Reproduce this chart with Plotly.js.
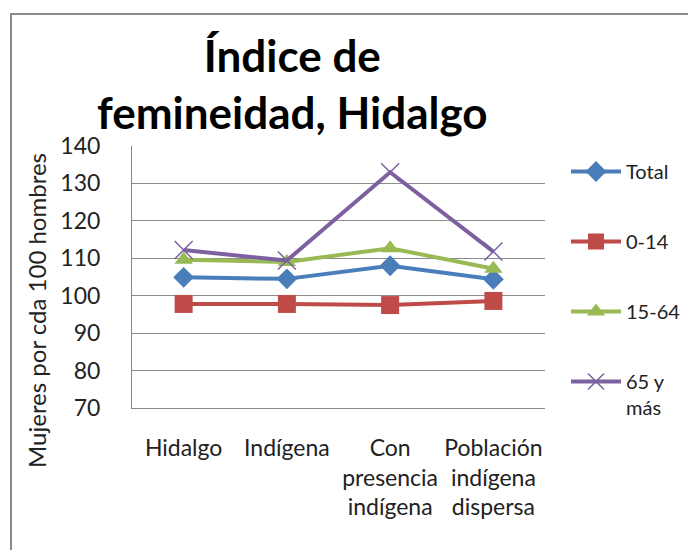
<!DOCTYPE html>
<html>
<head>
<meta charset="utf-8">
<script src="https://cdn.plot.ly/plotly-3.0.1.min.js"></script>
<style>html,body{margin:0;padding:0;background:#fff;}#chart{width:688px;height:550px;}</style>
</head>
<body>
<div id="chart"></div>
<script>
const categories = ["Hidalgo", "Indígena", "Con<br>presencia<br>indígena", "Población<br>indígena<br>dispersa"];
const seriesNames = ["Total", "0-14", "15-64", "65 y<br>más"];
const total = [104.9, 104.5, 108.0, 104.4];
const age0_14 = [97.8, 97.8, 97.5, 98.6];
const age15_64 = [109.6, 109.0, 112.7, 107.2];
const age65 = [112.2, 109.4, 133.0, 111.8];
const yTicks = [70, 80, 90, 100, 110, 120, 130, 140];
const titleText = "<b>Índice de<br>femineidad, Hidalgo</b>";
const yTitleText = "Mujeres por cda 100 hombres";

const font = "Lato, 'Open Sans', sans-serif";
const colors = ["#4A7EBB", "#BE4B48", "#98B954", "#7D60A0"];
const symbols = ["diamond", "square", "triangle-up", "x-thin-open"];
const sizes = [16, 18, 16, 18];
const data = [total, age0_14, age15_64, age65].map((vals, i) => ({
  type: "scatter", mode: "lines+markers",
  x: categories, y: vals, name: seriesNames[i], legendgroup: "g" + i,
  line: {color: colors[i], width: 4},
  marker: {symbol: symbols[i], size: sizes[i], color: colors[i], line: {color: colors[i], width: i === 3 ? 1.5 : 0}}
}));

const L = 132, R = 545, T = 146, B = 408;
const px = v => (v - L) / (R - L);
const py = v => (B - v) / (B - T);

const layout = {
  width: 688, height: 550,
  margin: {l: L, r: 688 - R, t: T, b: 550 - B, autoexpand: false},
  paper_bgcolor: "#ffffff", plot_bgcolor: "#ffffff",
  font: {family: font, color: "#222"},
  xaxis: {type: "category", range: [-0.5, 3.5], showgrid: false, showline: true, linecolor: "#888", linewidth: 1,
          ticks: "", tickangle: 0, tickfont: {family: font, size: 23, color: "#222"}, ticklabelstandoff: 19, fixedrange: true},
  yaxis: {range: [70, 140], tickvals: yTicks, showgrid: true, gridcolor: "#8c8c8c", gridwidth: 1,
          showline: true, linecolor: "#888", linewidth: 1, ticks: "", zeroline: false,
          tickfont: {family: font, size: 23, color: "#222"}, ticklabelstandoff: 26, fixedrange: true},
  showlegend: true,
  legend: {x: px(566), xanchor: "left", y: py(152), yanchor: "top", tracegroupgap: 41, valign: "top",
           font: {family: font, size: 20, color: "#222"}, bgcolor: "rgba(0,0,0,0)", itemwidth: 50,
           maxheight: 500},
  annotations: [
    {text: titleText, xref: "paper", yref: "paper", x: px(292), y: py(83), xanchor: "center", yanchor: "middle",
     showarrow: false, font: {family: font, size: 44, color: "#000"}},
    {text: yTitleText, textangle: -90, xref: "paper", yref: "paper", xanchor: "center", yanchor: "middle",
     x: px(36), y: py(311), showarrow: false, font: {family: font, size: 24, color: "#222"}}],
  shapes: [{type: "rect", xref: "paper", yref: "paper", x0: px(11), x1: 1.6, y0: -0.8, y1: py(14),
            line: {color: "#8a8a8a", width: 2}, fillcolor: "rgba(0,0,0,0)", layer: "below"}]
};
Plotly.newPlot("chart", data, layout, {displayModeBar: false, staticPlot: true});
</script>
</body>
</html>
